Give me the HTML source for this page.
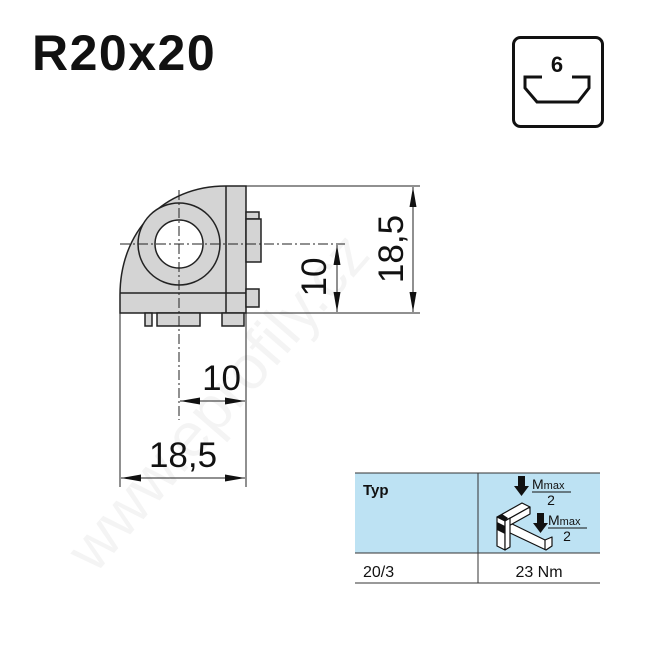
<!DOCTYPE html>
<html><head><meta charset="utf-8"><style>
body{margin:0;background:#fff;}
svg{display:block;font-family:"Liberation Sans",sans-serif;}
</style></head><body>
<svg width="645" height="645" viewBox="0 0 645 645" xmlns="http://www.w3.org/2000/svg">
<defs>
<marker id="a" viewBox="0 0 20 8" refX="20" refY="4" markerWidth="22" markerHeight="8" markerUnits="userSpaceOnUse" orient="auto-start-reverse"><path d="M0,0.5 L20,4 L0,7.5 Z" fill="#111"/></marker>
</defs>
<text x="32" y="70" font-size="50" font-weight="bold" fill="#111" letter-spacing="1.5">R20x20</text>
<!-- icon -->
<rect x="513.5" y="37.5" width="89" height="89" rx="7" fill="none" stroke="#111" stroke-width="3"/>
<text x="557" y="72" font-size="22" font-weight="bold" text-anchor="middle" fill="#111">6</text>
<path d="M542,77 L525,77 L525,88 L537,102 L578,102 L589,88 L589,77 L572,77" fill="none" stroke="#111" stroke-width="3"/>
<!-- watermark -->
<text x="0" y="0" font-size="62" fill="#000" fill-opacity="0.045" transform="translate(95,575) rotate(-49)">www.eprofily.cz</text>
<!-- part -->
<g stroke="#222" stroke-width="1.5">
<path d="M120,313 L120,295 C120,232 163,186 226,186 L246,186 L246,313 Z" fill="#d4d4d4"/>
<circle cx="179" cy="244" r="41" fill="#d4d4d4"/>
<circle cx="179" cy="244" r="24" fill="#fff"/>
<line x1="226" y1="186" x2="226" y2="313"/>
<line x1="120" y1="293" x2="246" y2="293"/>
<rect x="246" y="212" width="13" height="7" fill="#d4d4d4"/>
<rect x="246" y="219" width="15" height="43" fill="#d4d4d4"/>
<rect x="246" y="289" width="13" height="18" fill="#d4d4d4"/>
<rect x="145" y="313" width="7" height="13" fill="#d4d4d4"/>
<rect x="157" y="313" width="43" height="13" fill="#d4d4d4"/>
<rect x="222" y="313" width="22" height="13" fill="#d4d4d4"/>
</g>
<g stroke="#222" stroke-width="1" stroke-dasharray="10,3,2,3" fill="none">
<line x1="120" y1="244" x2="345" y2="244"/>
<line x1="179" y1="190" x2="179" y2="420"/>
</g>
<!-- dims -->
<g stroke="#222" stroke-width="1" fill="none">
<line x1="246" y1="186" x2="420" y2="186"/>
<line x1="246" y1="313" x2="420" y2="313"/>
<line x1="120" y1="313" x2="120" y2="487"/>
<line x1="246" y1="313" x2="246" y2="487"/>
<line x1="413" y1="187" x2="413" y2="312" marker-start="url(#a)" marker-end="url(#a)"/>
<line x1="337" y1="245" x2="337" y2="312" marker-start="url(#a)" marker-end="url(#a)"/>
<line x1="180" y1="401" x2="245" y2="401" marker-start="url(#a)" marker-end="url(#a)"/>
<line x1="121" y1="478" x2="245" y2="478" marker-start="url(#a)" marker-end="url(#a)"/>
</g>
<g font-size="35" fill="#111">
<text x="241" y="390" text-anchor="end">10</text>
<text x="183" y="467" text-anchor="middle">18,5</text>
<text transform="translate(326,277) rotate(-90)" text-anchor="middle">10</text>
<text transform="translate(403,249) rotate(-90)" text-anchor="middle">18,5</text>
</g>
<!-- table -->
<rect x="355" y="473" width="245" height="80" fill="#bde2f3"/>
<line x1="355" y1="473" x2="600" y2="473" stroke="#333" stroke-width="1"/>
<line x1="355" y1="553" x2="600" y2="553" stroke="#333" stroke-width="1"/>
<line x1="355" y1="583" x2="600" y2="583" stroke="#333" stroke-width="1"/>
<line x1="478" y1="473" x2="478" y2="583" stroke="#333" stroke-width="1"/>
<text x="363" y="495" font-size="15" font-weight="bold" fill="#111">Typ</text>
<text x="363" y="577" font-size="16" fill="#111">20/3</text>
<text x="539" y="577" font-size="16" fill="#111" text-anchor="middle">23 Nm</text>
<!-- load icon -->
<g stroke="#111" stroke-width="1.2" fill="#fff" stroke-linejoin="round">
<!-- diagonal beam to lower right -->
<path d="M508,522 L545,540 L552,537 L552,546 L546,550 L508,532 Z"/>
<path d="M545,540 L545,550"/>
<!-- top beam -->
<path d="M497,517 L522,503 L530,507 L505,521 Z"/>
<path d="M505,521 L530,507 L530,514 L505,528 Z"/>
<!-- post -->
<path d="M497,517 L505,521 L505,550 L497,546 Z"/>
<path d="M505,521 L510,518 L510,547 L505,550 Z"/>
</g>
<path d="M497,517 L502,514 L508,518 L505,521 Z" fill="#111"/>
<path d="M497,522 L505,526 L505,534 L497,530 Z" fill="#111"/>
<path d="M518,476 h7 v10 h4 l-7.5,10 l-7.5,-10 h4 Z" fill="#111"/>
<path d="M537,513 h7 v10 h4 l-7.5,10 l-7.5,-10 h4 Z" fill="#111"/>
<g font-size="14" fill="#111">
<text x="532" y="489">M<tspan font-size="11">max</tspan></text>
<line x1="532" y1="492" x2="571" y2="492" stroke="#111"/>
<text x="551" y="505" text-anchor="middle">2</text>
<text x="548" y="525">M<tspan font-size="11">max</tspan></text>
<line x1="548" y1="528" x2="587" y2="528" stroke="#111"/>
<text x="567" y="541" text-anchor="middle">2</text>
</g>
</svg>
</body></html>
